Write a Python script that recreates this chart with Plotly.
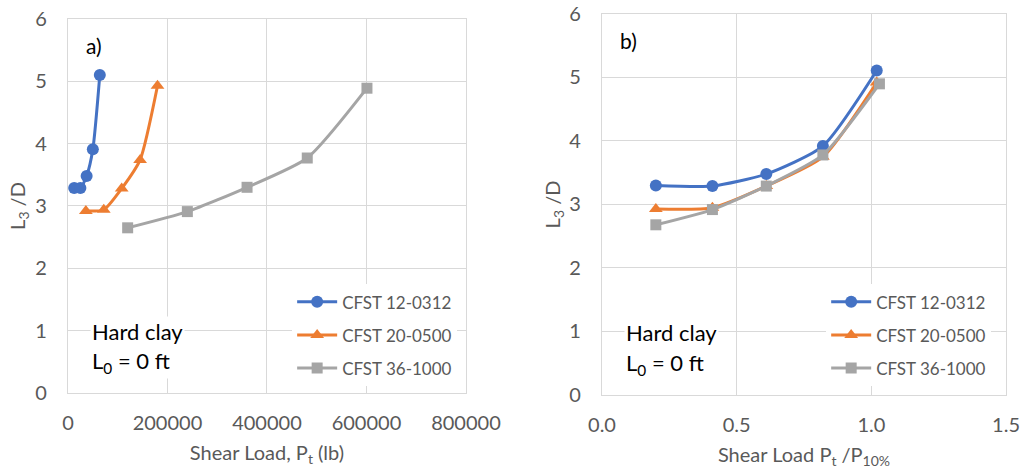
import plotly.graph_objects as go

series_names = ["CFST 12-0312", "CFST 20-0500", "CFST 36-1000"]

# Panel a) shear load (lb) vs L3/D
load_12 = [12500, 25000, 37500, 50000, 64000]
load_20 = [36000, 72000, 108000, 145000, 180000]
load_36 = [120000, 240000, 360000, 481000, 601000]

l3d_12 = [3.29, 3.29, 3.48, 3.91, 5.10]
l3d_20 = [2.92, 2.94, 3.28, 3.74, 4.93]
l3d_36 = [2.65, 2.91, 3.30, 3.77, 4.89]

# Panel b) normalised shear load Pt/P10%
ratio_12 = [0.20, 0.41, 0.61, 0.82, 1.02]
ratio_20 = [0.20, 0.41, 0.61, 0.82, 1.02]
ratio_36 = [0.20, 0.41, 0.61, 0.82, 1.03]

l3d_b_12 = [3.30, 3.29, 3.48, 3.92, 5.11]
l3d_b_20 = [2.93, 2.95, 3.29, 3.75, 4.92]
l3d_b_36 = [2.68, 2.92, 3.29, 3.78, 4.90]

colors = ["#4472C4", "#ED7D31", "#A5A5A5"]
symbols = ["circle", "triangle-up", "square"]
msizes = [12, 12, 11]

FONT = "Lato"
TXT = "#595959"
GRID = "#D9D9D9"

fig = go.Figure()

left = [(load_12, l3d_12), (load_20, l3d_20), (load_36, l3d_36)]
right = [(ratio_12, l3d_b_12), (ratio_20, l3d_b_20), (ratio_36, l3d_b_36)]

for i, (xs, ys) in enumerate(left):
    fig.add_trace(go.Scatter(
        x=xs, y=ys, mode="lines+markers", name=series_names[i],
        line=dict(color=colors[i], width=3, shape="spline", smoothing=0.6),
        marker=dict(symbol=symbols[i], size=msizes[i], color=colors[i]),
        xaxis="x", yaxis="y", legend="legend", legendgroup="a%d" % i))

for i, (xs, ys) in enumerate(right):
    fig.add_trace(go.Scatter(
        x=xs, y=ys, mode="lines+markers", name=series_names[i],
        line=dict(color=colors[i], width=3, shape="spline", smoothing=0.6),
        marker=dict(symbol=symbols[i], size=msizes[i], color=colors[i]),
        xaxis="x2", yaxis="y2", legend="legend2", legendgroup="b%d" % i))

axis_common = dict(showgrid=True, gridcolor=GRID, gridwidth=1.3, zeroline=False,
                   showline=True, linecolor=GRID, linewidth=1.3, mirror=True,
                   automargin=False,
                   tickfont=dict(family=FONT, size=20, color=TXT), ticks="")
title_font = dict(family=FONT, size=20, color=TXT)

fig.update_layout(
    width=1025, height=474,
    margin=dict(l=0, r=0, t=0, b=0, autoexpand=False),
    paper_bgcolor="white", plot_bgcolor="white",
    font=dict(family=FONT, color=TXT),
    showlegend=True,
    xaxis=dict(domain=[0.0663, 0.4546], range=[0, 800000], dtick=200000,
               tickformat="d", anchor="y", ticklabelstandoff=12,
               title=dict(text="Shear Load, P<sub>t</sub> (lb)", standoff=12, font=title_font),
               **axis_common),
    yaxis=dict(domain=[0.1709, 0.9599], range=[0, 6], dtick=1, anchor="x",
               ticklabelstandoff=16,
               title=dict(text="L<sub>3</sub> /D", standoff=4, font=title_font),
               **axis_common),
    xaxis2=dict(domain=[0.5873, 0.9815], range=[0, 1.5], dtick=0.5,
                tickformat=".1f", anchor="y2", ticklabelstandoff=12,
                title=dict(text="Shear Load P<sub>t</sub> /P<sub>10%</sub>", standoff=12,
                           font=title_font),
                **axis_common),
    yaxis2=dict(domain=[0.1667, 0.9705], range=[0, 6], dtick=1, anchor="x2",
                ticklabelstandoff=16,
                title=dict(text="L<sub>3</sub> /D", standoff=3, font=title_font),
                **axis_common),
    legend=dict(x=0.446, xanchor="right", y=0.185, yanchor="bottom",
                bgcolor="white", font=dict(family=FONT, size=17, color=TXT),
                tracegroupgap=8, itemwidth=40),
    legend2=dict(x=0.967, xanchor="right", y=0.185, yanchor="bottom",
                 bgcolor="white", font=dict(family=FONT, size=17, color=TXT),
                 tracegroupgap=8, itemwidth=40),
)

annots = []
for xr, yr, lab in [("x domain", "y domain", "a)"), ("x2 domain", "y2 domain", "b)")]:
    annots.append(dict(xref=xr, yref=yr, x=0.04, y=0.93, xanchor="left", yanchor="middle",
                       text=lab, showarrow=False,
                       font=dict(family=FONT, size=21, color="black")))
    annots.append(dict(xref=xr, yref=yr, x=0.055, y=0.165, xanchor="left", yanchor="middle",
                       text="Hard clay", showarrow=False, bgcolor="white",
                       font=dict(family=FONT, size=22, color="black")))
    annots.append(dict(xref=xr, yref=yr, x=0.055, y=0.082, xanchor="left", yanchor="middle",
                       text="L<sub>0</sub> = 0 ft", showarrow=False, bgcolor="white",
                       font=dict(family=FONT, size=22, color="black")))
fig.update_layout(annotations=annots)

fig.write_html("out.html")
